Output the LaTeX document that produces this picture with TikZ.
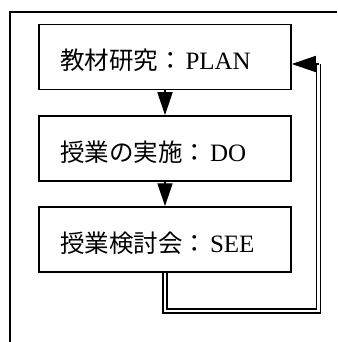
\documentclass[tikz,border=0pt]{standalone}
\usepackage{fontspec}
\setmainfont{Liberation Serif}
\newfontfamily\jp{Noto Sans CJK JP}
\usetikzlibrary{arrows.meta}
\newcommand{\jpt}[1]{{\fontsize{24.5}{28}\selectfont\jp #1}\hspace{3pt}}
\tikzset{
  stagebox/.style={draw, line width=1.5pt, rectangle, minimum height=65pt,
    text width=210pt, inner xsep=21pt, align=left, text height=25pt, text depth=0pt,
    font=\fontsize{25}{28}\selectfont},
  flowarrow/.style={line width=1.4pt, -{Triangle[length=23pt,width=15pt]}},
  feedback/.style={line width=1.8pt, double, double distance=2.2pt},
  frameline/.style={line width=1.4pt}
}
\begin{document}
\begin{tikzpicture}[x=1pt,y=-1pt]
\useasboundingbox (0,0) rectangle (337,342);
\draw[frameline] (10,342) -- (10,12) -- (337,12);
\node[stagebox] (plan) at (165,57) {\jpt{教材研究：}PLAN};
\node[stagebox] (do) at (165,148.5) {\jpt{授業の実施：}DO};
\node[stagebox] (see) at (165,239.5) {\jpt{授業検討会：}SEE};
\draw[flowarrow] (plan) -- (do);
\draw[flowarrow] (do) -- (see);
\coordinate (fbstart) at (see.south);
\coordinate (fbbottom) at (165,311);
\coordinate (fbcorner) at (318.5,311);
\coordinate (fbtop) at (318.5,64);
\draw[feedback] (fbstart) -- (fbbottom) -- (fbcorner) -- (fbtop);
\draw[flowarrow, -{Triangle[length=24pt,width=16pt]}] (fbtop) -- (fbtop -| plan.east);
\end{tikzpicture}
\end{document}
